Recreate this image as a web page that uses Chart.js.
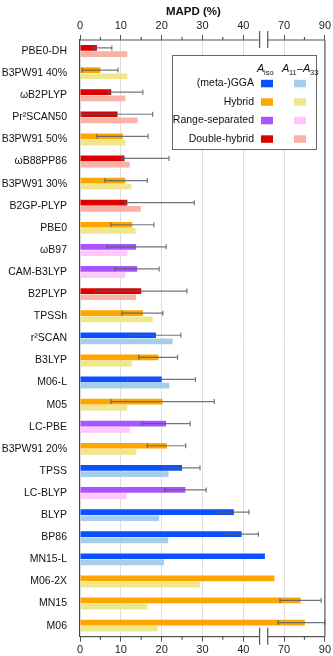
<!DOCTYPE html>
<html>
<head>
<meta charset="utf-8">
<script src="https://cdn.jsdelivr.net/npm/chart.js@4"></script>
<style>
  html, body { margin: 0; padding: 0; background: #fff; }
  #wrap { width: 333px; height: 656px; position: relative; }
</style>
</head>
<body>
<div id="wrap"><canvas id="mapdChart"></canvas></div>
<script>
// functionals, top to bottom
const categories = ['PBE0-DH', 'B3PW91 40%', 'ωB2PLYP', 'Pr²SCAN50', 'B3PW91 50%', 'ωB88PP86',
    'B3PW91 30%', 'B2GP-PLYP', 'PBE0', 'ωB97', 'CAM-B3LYP', 'B2PLYP', 'TPSSh', 'r²SCAN', 'B3LYP',
    'M06-L', 'M05', 'LC-PBE', 'B3PW91 20%', 'TPSS', 'LC-BLYP', 'BLYP', 'BP86', 'MN15-L', 'M06-2X',
    'MN15', 'M06'];
const families = ['DH', 'H', 'DH', 'DH', 'H', 'DH', 'H', 'DH', 'H', 'RS', 'RS', 'DH', 'H', 'GGA', 'H',
    'GGA', 'H', 'RS', 'H', 'GGA', 'RS', 'GGA', 'GGA', 'GGA', 'H', 'H', 'H'];

// MAPD (%) for A_iso and for A11-A33
const isoValues = [4.15, 5.0, 7.65, 9.2, 10.5, 10.9, 11.1, 11.6, 12.8, 13.75, 14.0, 15.0, 15.4, 18.6, 19.2,
    20.0, 20.2, 21.1, 21.3, 25.0, 25.8, 37.7, 39.6, 45.3, 65.3, 78.1, 80.2];
const tensorValues = [11.6, 11.6, 11.1, 14.1, 11.1, 12.2, 12.6, 14.9, 13.6, 11.6, 11.1, 13.75, 17.8, 22.7, 12.7,
    21.9, 11.6, 12.3, 13.8, 21.7, 11.3, 19.4, 21.6, 20.6, 29.4, 16.5, 19.0];

// error bar ends on the A_iso bars (null = none)
const errLow = [3.5, 0.5, 7.0, 0.4, 4.15, 10.2, 6.1, 11.0, 7.6, 6.6, 8.5, 3.9, 10.3, 12.1, 14.4,
    11.6, 7.6, 15.2, 16.5, 20.5, 20.8, 33.8, 35.7, null, null, 68.0, 67.1];
const errHigh = [7.8, 9.3, 15.4, 17.8, 16.7, 21.8, 16.5, 28.0, 18.1, 21.1, 19.4, 26.2, 20.3, 24.7, 23.9,
    28.3, 32.9, 27.0, 25.9, 29.4, 30.9, 41.4, 43.7, null, null, 88.2, 90];

const tickValues = [0, 10, 20, 30, 40, 70, 90];
const minorTickValues = [5, 15, 25, 35, 80];
const breakValues = [44, 62]; // axis is cut between these

const familyNames = { GGA: '(meta-)GGA', H: 'Hybrid', RS: 'Range-separated', DH: 'Double-hybrid' };
const darkColors = { GGA: '#0a50ff', H: '#ffa500', RS: '#a855ff', DH: '#dc0000' };
const lightColors = { GGA: '#a7cdec', H: '#f0e68c', RS: '#ffc6ff', DH: '#f9b3a6' };

const FONT = '"Liberation Sans", Arial, sans-serif';

// broken axis: 0-46 linear, then 62-90 at half scale
function toAxis(v) {
    if (v <= 46) return v;
    if (v < breakValues[1]) return 46;
    return 46 + (v - breakValues[1]) / 2;
}

function fitTop(scale) { scale.height = 40; }
function fitBottom(scale) { scale.height = 19; }
function fitLeft(scale) { scale.width = 80; }

function xAxisOptions(position) {
    return {
        type: 'linear',
        position: position,
        min: 0,
        max: 60,
        afterBuildTicks: function (scale) {
            scale.ticks = tickValues.map(v => ({ value: toAxis(v) }));
        },
        afterFit: position === 'top' ? fitTop : fitBottom,
        ticks: {
            callback: function (val, i) { return String(tickValues[i]); },
            font: { family: FONT, size: 11 },
            color: '#222',
            padding: 2,
            maxRotation: 0,
            autoSkip: false
        },
        grid: {
            drawOnChartArea: position === 'top',
            color: function (ctx) {
                if (!ctx.tick || ctx.tick.value === 0 || ctx.tick.value === 60) return 'rgba(0,0,0,0)';
                return '#dedede';
            },
            lineWidth: 1,
            tickColor: '#555',
            tickLength: 5
        },
        border: { display: false }
    };
}

// frame, axis break, minor ticks, error bars, legend and title
const decorPlugin = {
    id: 'decor',
    afterDatasetsDraw: function (chart) {
        let ctx = chart.ctx;
        let x = chart.scales.x;
        let meta = chart.getDatasetMeta(0);
        ctx.save();
        ctx.beginPath();
        ctx.rect(chart.chartArea.left, chart.chartArea.top, chart.chartArea.right - chart.chartArea.left + 1,
            chart.chartArea.bottom - chart.chartArea.top);
        ctx.clip();
        ctx.strokeStyle = 'rgba(85, 95, 105, 0.85)';
        ctx.lineWidth = 1.2;
        meta.data.forEach((bar, i) => {
            if (errLow[i] === null) return;
            let x1 = x.getPixelForValue(toAxis(errLow[i]));
            let x2 = x.getPixelForValue(toAxis(errHigh[i]));
            let y = bar.y;
            ctx.beginPath();
            ctx.moveTo(x1, y);
            ctx.lineTo(x2, y);
            ctx.moveTo(x1, y - 2.5);
            ctx.lineTo(x1, y + 2.5);
            ctx.moveTo(x2, y - 2.5);
            ctx.lineTo(x2, y + 2.5);
            ctx.stroke();
        });
        ctx.restore();
    },
    afterDraw: function (chart) {
        let ctx = chart.ctx;
        let area = chart.chartArea;
        let x = chart.scales.x;
        let b1 = x.getPixelForValue(toAxis(breakValues[0]));
        let b2 = x.getPixelForValue(toAxis(breakValues[1]));
        ctx.save();
        ctx.strokeStyle = '#555';
        ctx.lineWidth = 1.2;
        [area.top, area.bottom].forEach(y => {
            ctx.beginPath();
            ctx.moveTo(area.left, y);
            ctx.lineTo(b1, y);
            ctx.moveTo(b2, y);
            ctx.lineTo(area.right, y);
            // break marks
            ctx.moveTo(b1, y - 9);
            ctx.lineTo(b1, y + 8);
            ctx.moveTo(b2, y - 9);
            ctx.lineTo(b2, y + 8);
            ctx.stroke();
            // minor ticks
            let dir = y === area.top ? -1 : 1;
            ctx.beginPath();
            minorTickValues.forEach(v => {
                let px = x.getPixelForValue(toAxis(v));
                ctx.moveTo(px, y);
                ctx.lineTo(px, y + dir * 3);
            });
            ctx.stroke();
        });
        // right frame
        ctx.beginPath();
        ctx.moveTo(area.right, area.top);
        ctx.lineTo(area.right, area.bottom);
        ctx.stroke();

        // title
        ctx.fillStyle = '#111';
        ctx.font = 'bold 11.5px ' + FONT;
        ctx.textAlign = 'center';
        ctx.textBaseline = 'middle';
        ctx.fillText('MAPD (%)', (area.left + area.right) / 2 - 9, 12);

        // legend box
        ctx.fillStyle = '#fff';
        ctx.fillRect(172, 55, 145, 95);
        ctx.strokeStyle = '#666';
        ctx.lineWidth = 1;
        ctx.strokeRect(172.5, 55.5, 144, 94);

        ctx.fillStyle = '#111';
        ctx.textBaseline = 'alphabetic';
        ctx.textAlign = 'left';
        ctx.font = 'italic 11px ' + FONT;
        ctx.fillText('A', 257, 72);
        ctx.font = '7.5px ' + FONT;
        ctx.fillText('iso', 264, 75);
        ctx.font = 'italic 11px ' + FONT;
        ctx.fillText('A', 282, 72);
        ctx.font = '7.5px ' + FONT;
        ctx.fillText('11', 289, 75);
        ctx.font = '11px ' + FONT;
        ctx.fillText('–', 297, 72);
        ctx.font = 'italic 11px ' + FONT;
        ctx.fillText('A', 303, 72);
        ctx.font = '7.5px ' + FONT;
        ctx.fillText('33', 310, 75);

        ctx.font = '10.5px ' + FONT;
        ctx.textAlign = 'right';
        ctx.textBaseline = 'middle';
        ['GGA', 'H', 'RS', 'DH'].forEach((f, i) => {
            let y = 83.5 + i * 18.5;
            ctx.fillStyle = '#111';
            ctx.fillText(familyNames[f], 254, y);
            ctx.fillStyle = darkColors[f];
            ctx.fillRect(261, y - 3.7, 12, 7.5);
            ctx.fillStyle = lightColors[f];
            ctx.fillRect(294, y - 3.7, 12, 7.5);
        });
        ctx.restore();
    }
};

let ctx = document.getElementById('mapdChart').getContext('2d');
let mapdChart = new Chart(ctx, {
    type: 'bar',
    data: {
        labels: categories,
        datasets: [{
            label: 'A_iso',
            data: isoValues.map(toAxis),
            backgroundColor: families.map(f => darkColors[f]),
            xAxisID: 'x'
        }, {
            label: 'A11-A33',
            data: tensorValues.map(toAxis),
            backgroundColor: families.map(f => lightColors[f]),
            xAxisID: 'x'
        }]
    },
    options: {
        indexAxis: 'y',
        responsive: true,
        maintainAspectRatio: false,
        animation: false,
        devicePixelRatio: 1,
        layout: { padding: { left: 0, right: 7, top: 0, bottom: 0 } },
        datasets: {
            bar: { categoryPercentage: 0.56, barPercentage: 0.92 }
        },
        plugins: {
            legend: { display: false },
            tooltip: { enabled: false }
        },
        scales: {
            x: xAxisOptions('top'),
            x2: xAxisOptions('bottom'),
            y: {
                type: 'category',
                afterFit: fitLeft,
                grid: { display: false, drawTicks: false },
                border: { display: true, color: '#444', width: 1.2 },
                ticks: {
                    font: { family: FONT, size: 10.5 },
                    color: '#111',
                    padding: 13,
                    autoSkip: false
                }
            }
        }
    },
    plugins: [decorPlugin]
});
</script>
</body>
</html>
